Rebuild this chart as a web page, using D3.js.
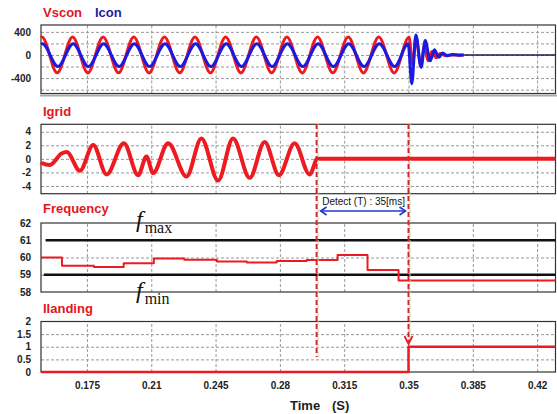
<!DOCTYPE html>
<html>
<head>
<meta charset="utf-8">
<script src="https://cdn.jsdelivr.net/npm/d3@7"></script>
<style>
  body { margin: 0; background: #fff; }
  svg text { font-family: "Liberation Sans", Arial, sans-serif; }
</style>
</head>
<body>
<div id="chart"></div>
<script>
"use strict";

// ---- data ----
const timeDomain = [0.15, 0.43];
const timeTicks = [0.175, 0.21, 0.245, 0.28, 0.315, 0.35, 0.385, 0.42];

// Vscon / Icon : peaks and troughs [time, value]
const vscon = [
  [0.1500, 300], [0.1505, 310], [0.1588, -308], [0.1672, 312], [0.1755, -310],
  [0.1838, 311], [0.1922, -309], [0.2005, 312], [0.2088, -310], [0.2172, 311],
  [0.2255, -309], [0.2338, 312], [0.2422, -310], [0.2505, 311], [0.2588, -310],
  [0.2672, 312], [0.2755, -309], [0.2838, 311], [0.2922, -310], [0.3005, 312],
  [0.3088, -309], [0.3172, 311], [0.3255, -310], [0.3338, 312], [0.3422, -310],
  [0.3503, 305], [0.3522, -160], [0.3542, 290], [0.3566, -190], [0.3586, 150],
  [0.3606, -100], [0.3628, 60], [0.3650, -45], [0.3672, 25], [0.3700, -10],
  [0.3730, 0], [0.3800, 0]
];
const icon = [
  [0.1500, 185], [0.1508, 195], [0.1592, -200], [0.1675, 196], [0.1758, -201],
  [0.1841, 195], [0.1925, -200], [0.2008, 196], [0.2091, -201], [0.2175, 195],
  [0.2258, -200], [0.2341, 196], [0.2425, -201], [0.2508, 195], [0.2591, -200],
  [0.2675, 196], [0.2758, -201], [0.2841, 195], [0.2925, -200], [0.3008, 196],
  [0.3091, -201], [0.3175, 195], [0.3258, -200], [0.3341, 196], [0.3425, -201],
  [0.3498, 195], [0.3518, -497], [0.3540, 347], [0.3569, -214], [0.3591, 250],
  [0.3618, -100], [0.3641, 90], [0.3665, -40], [0.3686, 35], [0.3710, -15],
  [0.3740, 10], [0.3770, -5], [0.3800, 0]
];
const tailZero = [[0.3640, 0], [0.4300, 0]];

// Igrid
const igrid = [
  [0.1500, -0.5], [0.1504, -0.6], [0.1549, -0.9], [0.1612, 0.8], [0.1640, 1.0],
  [0.1712, -1.75], [0.1784, 2.05], [0.1857, -2.3], [0.1951, 2.3], [0.2029, -2.4],
  [0.2074, 0.35], [0.2110, -2.1], [0.2192, 2.3], [0.2292, -2.6], [0.2373, 3.0],
  [0.2464, -3.2], [0.2545, 3.0], [0.2636, -2.8], [0.2717, 2.5], [0.2795, -2.4],
  [0.2880, 2.3], [0.2962, -2.3], [0.2995, -0.3], [0.3000, 0], [0.4300, 0]
];

// Frequency (step after)
const freqTimes = [0.15, 0.1614, 0.1788, 0.195, 0.2114, 0.228, 0.2457, 0.262,
                   0.2783, 0.2946, 0.3114, 0.3277, 0.3446, 0.43];
const freqValues = [60.0, 59.52, 59.45, 59.67, 59.94, 59.87, 59.77, 59.71,
                    59.8, 59.86, 60.15, 59.28, 58.66, 58.66];
const fmaxLine = [[0.1525, 61], [0.43, 61]];
const fminLine = [[0.1515, 59], [0.43, 59]];

// Ilanding (step after)
const ilanding = [[0.15, 0], [0.35, 1], [0.43, 1]];

const detectTimes = [0.30, 0.35];

// axis ticks per panel
const vLabels = [400, 0, -400], vGrid = [400, 200, 0, -200, -400, -600];
const iLabels = [4, 2, 0, -2, -4];
const fLabels = [62, 61, 60, 59, 58], fGrid = [60, 59];
const lLabels = [2, 1.5, 1, 0.5, 0], lGrid = [1.5, 1, 0.5];

// ---- drawing ----
const W = 557, H = 414;
const RED = "#ee1a22", BLUE = "#1a1ae0";

const svg = d3.select("#chart").append("svg")
  .attr("width", W).attr("height", H);

const x = d3.scaleLinear().domain(timeDomain).range([41, 555.5]);

function panel(top, bottom, domain, grid, labels) {
  const y = d3.scaleLinear().domain(domain).range([bottom, top]);
  const g = svg.append("g");

  // horizontal grid
  g.append("g")
    .attr("transform", `translate(${x.range()[0]},0)`)
    .call(d3.axisLeft(y).tickValues(grid).tickSize(-(x.range()[1] - x.range()[0])).tickFormat(""))
    .call(a => a.select(".domain").remove())
    .selectAll("line").attr("stroke", "#999").attr("stroke-dasharray", "3,2");

  // vertical grid
  g.append("g")
    .attr("transform", `translate(0,${bottom})`)
    .call(d3.axisBottom(x).tickValues(timeTicks).tickSize(-(bottom - top)).tickFormat(""))
    .call(a => a.select(".domain").remove())
    .selectAll("line").attr("stroke", "#999").attr("stroke-dasharray", "3,2");

  // frame
  g.append("rect")
    .attr("x", x.range()[0]).attr("y", top)
    .attr("width", x.range()[1] - x.range()[0]).attr("height", bottom - top)
    .attr("fill", "none").attr("stroke", "#333").attr("stroke-width", 1.2);

  // y labels
  g.append("g")
    .attr("transform", `translate(${x.range()[0]},0)`)
    .call(d3.axisLeft(y).tickValues(labels).tickSize(0).tickPadding(10).tickFormat(d => d))
    .call(a => a.select(".domain").remove())
    .selectAll("text")
    .attr("font-size", 10).attr("font-weight", "bold").attr("fill", "#222")
    .style("font-family", "'Liberation Sans', Arial, sans-serif");

  return y;
}

function drawLine(y, data, color, width, curve) {
  const line = d3.line()
    .x(d => x(d[0])).y(d => y(d[1]))
    .curve(curve || d3.curveMonotoneX);
  return svg.append("path")
    .datum(data)
    .attr("d", line)
    .attr("fill", "none")
    .attr("stroke", color)
    .attr("stroke-width", width)
    .attr("stroke-linejoin", "round");
}

function title(txt, xp, yp, color) {
  svg.append("text").attr("x", xp).attr("y", yp)
    .attr("font-size", 13).attr("font-weight", "bold")
    .attr("fill", color).text(txt);
}

// panel 1 : Vscon / Icon
const y1 = panel(25, 93.5, [-667, 519], vGrid, vLabels);
svg.append("line").attr("x1", 40).attr("x2", W).attr("y1", 95.5).attr("y2", 95.5)
  .attr("stroke", "#aaa").attr("stroke-width", 2);
drawLine(y1, tailZero, "#1a1a55", 1.5);
drawLine(y1, vscon, RED, 3);
drawLine(y1, icon, BLUE, 3);
title("Vscon", 43, 17, "#e4151d");
title("Icon", 95, 17, "#1c1c9c");

// panel 2 : Igrid
const y2 = panel(124.3, 193.7, [-5.14, 5.1], iLabels, iLabels);
drawLine(y2, igrid, RED, 4);
title("Igrid", 43, 116, "#e4151d");

// panel 3 : Frequency
const y3 = panel(223, 292, [58, 62], fGrid, fLabels);
drawLine(y3, fmaxLine, "#111", 2.5, d3.curveLinear);
drawLine(y3, fminLine, "#111", 2.5, d3.curveLinear);
drawLine(y3, freqTimes.map((t, i) => [t, freqValues[i]]), RED, 2, d3.curveStepAfter);
title("Frequency", 43, 213, "#e4151d");

function fLabel(xp, yp, sub) {
  const t = svg.append("text").attr("x", xp).attr("y", yp)
    .style("font-family", "'Liberation Serif', 'Times New Roman', serif")
    .attr("fill", "#111");
  t.append("tspan").attr("font-size", 24).attr("font-style", "italic").text("f");
  t.append("tspan").attr("font-size", 16).attr("dx", 2).attr("dy", 6).text(sub);
}
fLabel(136, 227, "max");
fLabel(136, 298, "min");

// panel 4 : Ilanding
const y4 = panel(321.5, 372, [0, 2], lGrid, lLabels);
drawLine(y4, ilanding, RED, 2.5, d3.curveStepAfter);
title("Ilanding", 43, 313, "#e4151d");

// x labels
svg.append("g")
  .attr("transform", "translate(0,382)")
  .call(d3.axisBottom(x).tickValues(timeTicks).tickSize(0).tickPadding(0).tickFormat(d => d))
  .call(a => a.select(".domain").remove())
  .selectAll("text")
  .attr("font-size", 10).attr("font-weight", "bold").attr("fill", "#222")
  .style("font-family", "'Liberation Sans', Arial, sans-serif");

title("Time", 290, 410, "#222");
title("(S)", 332, 410, "#222");

// detect markers
const markerEnds = [357, 343];
detectTimes.forEach((t, i) => {
  const xp = x(t);
  svg.append("line").attr("x1", xp + 1.5).attr("x2", xp + 1.5)
    .attr("y1", 124).attr("y2", markerEnds[i])
    .attr("stroke", "#b8e0b8").attr("stroke-width", 1).attr("stroke-dasharray", "5,3")
    .attr("stroke-dashoffset", 4);
  svg.append("line").attr("x1", xp).attr("x2", xp)
    .attr("y1", 124).attr("y2", markerEnds[i])
    .attr("stroke", "#e0202a").attr("stroke-width", 2).attr("stroke-dasharray", "5,3");
});
// arrow head on the second marker
const xa = x(detectTimes[1]);
svg.append("path")
  .attr("d", `M${xa - 4},${336} L${xa},${344} L${xa + 4},${336}`)
  .attr("fill", "none").attr("stroke", "#e0202a").attr("stroke-width", 1.8);

// detect span arrow
const xs0 = x(detectTimes[0]) + 4, xs1 = x(detectTimes[1]) - 3, ya = 211;
svg.append("line").attr("x1", xs0).attr("x2", xs1).attr("y1", ya).attr("y2", ya)
  .attr("stroke", "#2038d0").attr("stroke-width", 1.6);
svg.append("path")
  .attr("d", `M${xs0 + 6},${ya - 4} L${xs0},${ya} L${xs0 + 6},${ya + 4} M${xs1 - 6},${ya - 4} L${xs1},${ya} L${xs1 - 6},${ya + 4}`)
  .attr("fill", "none").attr("stroke", "#2038d0").attr("stroke-width", 1.6);
svg.append("text")
  .attr("x", (x(detectTimes[0]) + x(detectTimes[1])) / 2 + 1).attr("y", 205)
  .attr("text-anchor", "middle").attr("font-size", 10).attr("fill", "#111")
  .text("Detect (T) : 35[ms]");
</script>
</body>
</html>
